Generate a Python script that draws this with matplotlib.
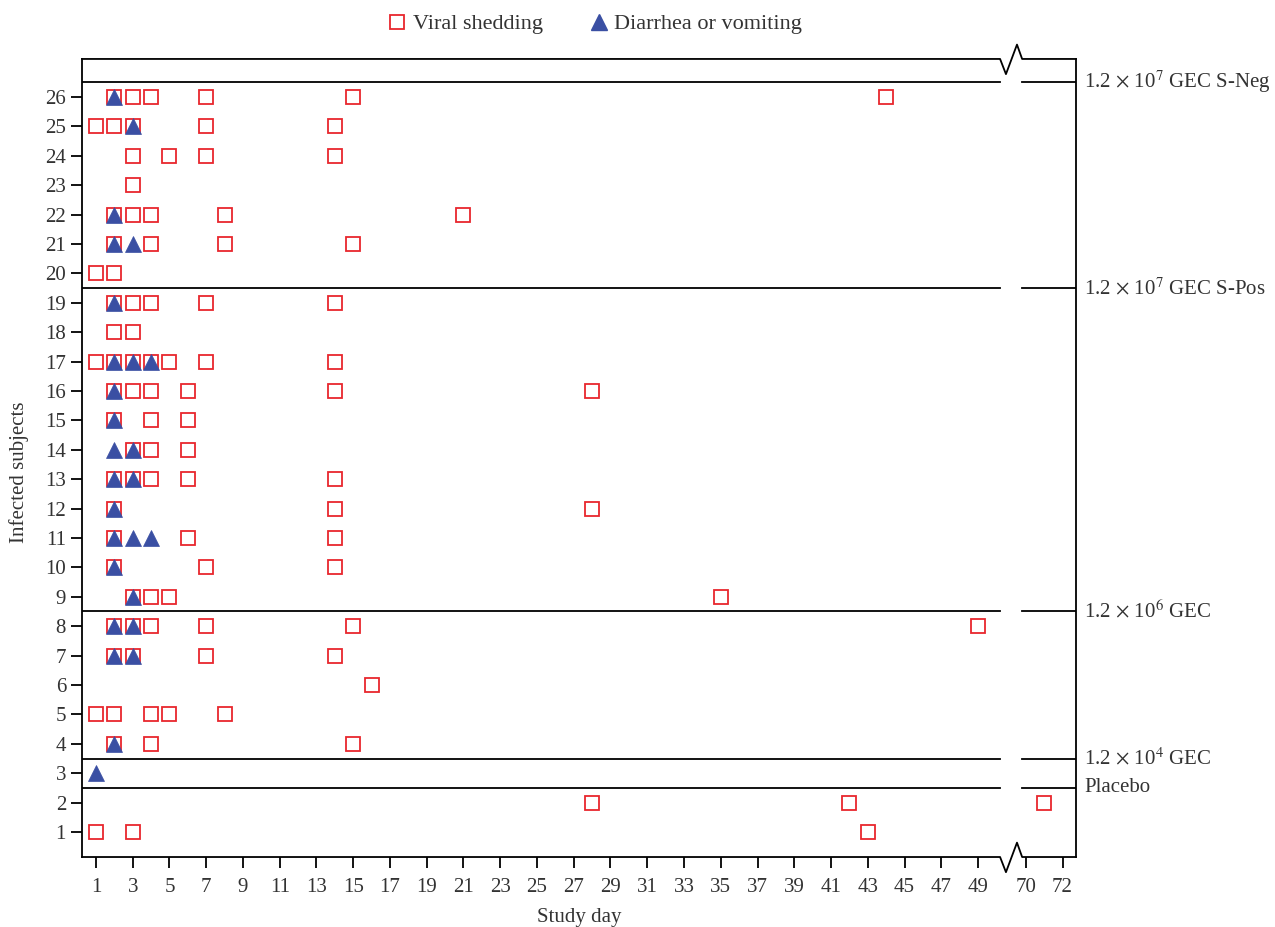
import matplotlib
matplotlib.use('Agg')
import matplotlib.pyplot as plt
import matplotlib.transforms as mtransforms
from matplotlib.lines import Line2D

plt.rcParams['font.family'] = ['Liberation Serif', 'DejaVu Serif']
plt.rcParams['mathtext.fontset'] = 'stix'

# study days with viral shedding, per subject 1..26
shedding_days = [
    [1, 3, 43],
    [28, 42, 71],
    [],
    [2, 4, 15],
    [1, 2, 4, 5, 8],
    [16],
    [2, 3, 7, 14],
    [2, 3, 4, 7, 15, 49],
    [3, 4, 5, 35],
    [2, 7, 14],
    [2, 6, 14],
    [2, 14, 28],
    [2, 3, 4, 6, 14],
    [3, 4, 6],
    [2, 4, 6],
    [2, 3, 4, 6, 14, 28],
    [1, 2, 3, 4, 5, 7, 14],
    [2, 3],
    [2, 3, 4, 7, 14],
    [1, 2],
    [2, 4, 8, 15],
    [2, 3, 4, 8, 21],
    [3],
    [3, 5, 7, 14],
    [1, 2, 3, 7, 14],
    [2, 3, 4, 7, 15, 44],
]

# study days with diarrhea or vomiting, per subject 1..26
symptom_days = [
    [], [], [1], [2], [], [], [2, 3], [2, 3], [3], [2],
    [2, 3, 4], [2], [2, 3], [2, 3], [2], [2], [2, 3, 4], [], [2], [],
    [2, 3], [2], [], [], [3], [2],
]

group_bounds = [26.5, 19.5, 8.5, 3.5, 2.5]
group_labels = [r'1.2 $\times$ 10$^7$ GEC S-Neg', r'1.2 $\times$ 10$^7$ GEC S-Pos',
                r'1.2 $\times$ 10$^6$ GEC', r'1.2 $\times$ 10$^4$ GEC', 'Placebo']

xticks_days = list(range(1, 50, 2)) + [70, 72]

# axis break: days >= 70 are shifted left
SHIFT = 18.4
BRK0, BRK1 = 50.2, 51.4
XMIN, XMAX = 0.24, 54.33


def xmap(d):
    return d - SHIFT if d >= 60 else d


red = '#e8262d'
blue = '#3a4fa3'
txt = '#333333'
FS = 15

fig = plt.figure(figsize=(12.75, 9.27), dpi=100)
ax = fig.add_axes([0.0643, 0.0755, 0.7796, 0.8609])

for i, days in enumerate(shedding_days):
    ax.plot([xmap(d) for d in days], [i + 1] * len(days), ls='none', marker='s',
            ms=10, mfc='none', mec=red, mew=1.3, zorder=3)
for i, days in enumerate(symptom_days):
    ax.plot([xmap(d) for d in days], [i + 1] * len(days), ls='none', marker='^',
            ms=11.5, mfc=blue, mec=blue, mew=0.5, zorder=4)

for yb in group_bounds:
    ax.plot([XMIN, BRK0], [yb, yb], color='black', lw=1.3)
    ax.plot([BRK1, XMAX], [yb, yb], color='black', lw=1.3)

ax.set_xlim(XMIN, XMAX)
ax.set_ylim(0.15, 27.29)
ax.set_xticks([xmap(d) for d in xticks_days])
ax.set_xticklabels([str(d) for d in xticks_days])
ax.set_yticks(range(1, 27))
ax.tick_params(axis='both', direction='out', length=8, width=1.3, labelsize=FS,
               color='black', labelcolor=txt)
ax.tick_params(axis='x', pad=7)

ax.spines['top'].set_visible(False)
ax.spines['bottom'].set_visible(False)
for s in ['left', 'right']:
    ax.spines[s].set_linewidth(1.3)

# top and bottom frame with break zigzag
trans = mtransforms.blended_transform_factory(ax.transData, ax.transAxes)
zx = [XMIN, BRK0, BRK0 + 0.32, BRK0 + 0.92, BRK0 + 1.2, XMAX]
for yb in (0.0, 1.0):
    zy = [yb, yb, yb - 0.019, yb + 0.018, yb, yb]
    ax.add_line(Line2D(zx, zy, transform=trans, color='black', lw=1.3, clip_on=False))

ytrans = mtransforms.blended_transform_factory(ax.transAxes, ax.transData)
for yb, lab in zip(group_bounds, group_labels):
    ax.text(1.008, yb, lab, transform=ytrans, ha='left', va='center', fontsize=FS, color=txt)

ax.set_xlabel('Study day', fontsize=FS, labelpad=8, color=txt)
ax.set_ylabel('Infected subjects', fontsize=FS, color=txt)
ax.yaxis.set_label_coords(-0.053, 0.482)

handles = [
    Line2D([], [], ls='none', marker='s', ms=10, mfc='none', mec=red, mew=1.3),
    Line2D([], [], ls='none', marker='^', ms=11.5, mfc=blue, mec=blue),
]
leg = fig.legend(handles, ['Viral shedding', 'Diarrhea or vomiting'], loc='center',
                 bbox_to_anchor=(0.466, 0.974), ncol=2, frameon=False, fontsize=16,
                 handletextpad=0.2, columnspacing=2.0, handlelength=1.0)
for t in leg.get_texts():
    t.set_color(txt)

fig.savefig('out.png', dpi=100)
